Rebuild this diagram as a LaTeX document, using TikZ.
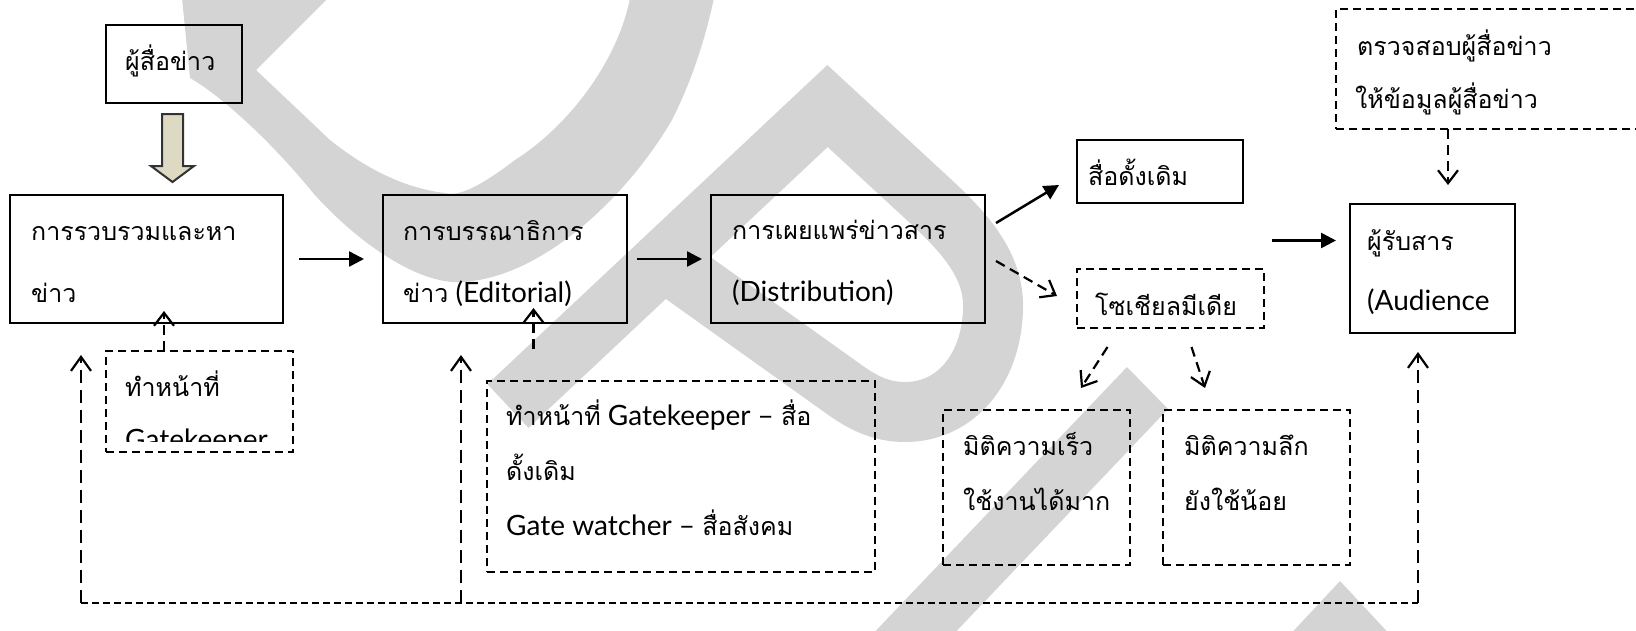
\documentclass[tikz,border=0pt]{standalone}
\usepackage{fontspec}
\setmainfont{Lato}
\newfontfamily\thaifont[Script=Thai]{Loma}
\usetikzlibrary{arrows.meta,calc}
\newcommand\thx[1]{{\thaifont\fontsize{25}{29}\selectfont #1}}
\definecolor{wmark}{gray}{0.83}
\definecolor{beige}{RGB}{221,217,195}
\begin{document}
\begin{tikzpicture}[x=1pt,y=-1pt,
  box/.style={draw=black, line width=2.4pt, rectangle, inner sep=0pt, outer sep=0pt, anchor=north west},
  dbox/.style={draw=black, line width=2.2pt, dash pattern=on 8pt off 5pt, rectangle, inner sep=0pt, outer sep=0pt, anchor=north west},
  txt/.style={anchor=base west, inner sep=0pt, font=\fontsize{28}{32}\selectfont},
  sarrow/.style={line width=2.5pt, -{Triangle[length=15pt,width=15pt]}},
  darrow/.style={line width=2.2pt, dash pattern=on 10pt off 6pt, -{Straight Barb[length=13pt,width=20pt]}},
  fbh/.style={line width=2.2pt, dash pattern=on 7pt off 4pt},
  fbv/.style={line width=2.2pt, dash pattern=on 13pt off 7pt, -{Straight Barb[length=14pt,width=20pt]}},
  wm/.style={fill=wmark, draw=none}
]
\useasboundingbox (0,0) rectangle (1636,630);

% watermark
\fill[wm] (182,-2) -- (190,78) .. controls (220,95) and (270,140) .. (314,194)
  .. controls (360,245) and (420,285) .. (462,282)
  .. controls (540,278) and (625,200) .. (672,120)
  .. controls (692,80) and (705,40) .. (714,-2) -- (630,-2)
  .. controls (618,60) and (570,125) .. (515,160)
  .. controls (482,185) and (460,197) .. (445,193)
  .. controls (420,190) and (380,180) .. (330,140) -- (256,70) -- (328,-2) -- cycle;
\draw[color=wmark, line width=60pt, line join=miter, line cap=butt]
  (508,406) -- (827.5,106) -- (919.5,191)
  .. controls (960,228) and (995,262) .. (993,310)
  .. controls (991,370) and (955,412) .. (905,412)
  .. controls (880,412) and (862,402) .. (845,390) -- (670,265);
\fill[wm] (1127,367) -- (1168,409) -- (948,640) -- (867,640) -- cycle;
\fill[wm] (1340,581) -- (1395,640) -- (1285,640) -- cycle;

% boxes
\node[box, minimum width=136pt, minimum height=78pt] (src) at (106,25) {};
\node[box, minimum width=273pt, minimum height=128pt] (b1) at (10,195) {};
\node[box, minimum width=244pt, minimum height=128pt] (b2) at (383,195) {};
\node[box, minimum width=274pt, minimum height=128pt] (b3) at (711,195) {};
\node[box, minimum width=166pt, minimum height=63pt] (trad) at (1077,140) {};
\node[dbox, minimum width=187pt, minimum height=59pt] (soc) at (1077,269) {};
\node[box, minimum width=165pt, minimum height=129pt] (aud) at (1350,204) {};
\node[dbox, minimum width=310pt, minimum height=120pt] (chk) at (1336,9) {};
\node[dbox, minimum width=187pt, minimum height=101pt] (gk1) at (106,351) {};
\node[dbox, minimum width=388pt, minimum height=191pt] (gk2) at (487,381) {};
\node[dbox, minimum width=187pt, minimum height=155pt] (spd) at (943,410) {};
\node[dbox, minimum width=187pt, minimum height=155pt] (dep) at (1163,410) {};

% texts
\node[txt] (t0) at (125,70) {\thx{ผู้สื่อข่าว}};
\node[txt] (t1a) at (31,240) {\thx{การรวบรวมและหา}};
\node[txt] (t1b) at (31,302) {\thx{ข่าว}};
\node[txt] (t2a) at (403,240) {\thx{การบรรณาธิการ}};
\node[txt] (t2b) at (403,302) {\thx{ข่าว} (Editorial)};
\node[txt] (t3a) at (732,239) {\thx{การเผยแพร่ข่าวสาร}};
\node[txt] (t3b) at (732,301) {(Distribution)};
\node[txt] (t4) at (1088,185) {\thx{สื่อดั้งเดิม}};
\node[txt] (t5) at (1095,315) {\thx{โซเชียลมีเดีย}};
\node[txt] (t6a) at (1367,250) {\thx{ผู้รับสาร}};
\node[txt] (t6b) at (1367,310) {(Audience};
\node[txt] (t7a) at (1357,55) {\thx{ตรวจสอบผู้สื่อข่าว}};
\node[txt] (t7b) at (1355,108) {\thx{ให้ข้อมูลผู้สื่อข่าว}};
\node[txt] (t8a) at (125,396) {\thx{ทำหน้าที่}};
\begin{scope}
\clip (100,340) rectangle (300,441);
\node[txt] (t8b) at (125,449) {Gatekeeper};
\end{scope}
\node[txt] (t9a) at (506,425) {\thx{ทำหน้าที่} Gatekeeper – \thx{สื่อ}};
\node[txt] (t9b) at (506,480) {\thx{ดั้งเดิม}};
\node[txt] (t9c) at (506,535) {Gate watcher – \thx{สื่อสังคม}};
\node[txt] (t10a) at (963,455) {\thx{มิติความเร็ว}};
\node[txt] (t10b) at (963,510) {\thx{ใช้งานได้มาก}};
\node[txt] (t11a) at (1184,455) {\thx{มิติความลึก}};
\node[txt] (t11b) at (1184,510) {\thx{ยังใช้น้อย}};

% block arrow from source to gathering
\draw[line width=2pt, draw=black!80, fill=beige, line join=miter]
  ($(src.south)+(-12,11)$) -- ($(src.south)+(9,11)$) -- ($(src.south)+(9,63)$)
  -- ($(src.south)+(20,63)$) -- ($(src.south)+(-1.5,79)$) -- ($(src.south)+(-23,63)$)
  -- ($(src.south)+(-12,63)$) -- cycle;

% solid arrows
\draw[sarrow] ($(b1.east)+(16,0)$) -- ($(b2.west)+(-19,0)$);
\draw[sarrow] ($(b2.east)+(10,0)$) -- ($(b3.west)+(-9,0)$);
\draw[sarrow] ($(b3.east)+(11,-36)$) -- ($(trad.south west)+(-18,-18)$);
\draw[sarrow] ($(aud.west)+(-78,-28)$) -- ($(aud.west)+(-14,-28)$);

% dashed arrows
\draw[darrow] ($(b3.east)+(11,2)$) -- ($(soc.north west)+(-20,27)$);
\draw[darrow] ($(soc.south)+(-63,19)$) -- ($(spd.north)+(44.5,-22)$);
\draw[darrow] ($(soc.south)+(21,19)$) -- ($(dep.north)+(-51.5,-22)$);
\draw[darrow] ($(chk.south west)+(112,0)$) -- ($(aud.north)+(15.5,-19)$);
\draw[darrow] ($(gk1.north west)+(58,0)$) -- ($(b1.south)+(17.5,-12)$);
\draw[darrow] ($(gk2.north west)+(46.5,-32)$) -- ($(b2.south)+(28.5,-15)$);

% feedback lines
\coordinate (fbL) at ($(b1.south)+(-65.5,280)$);
\coordinate (fbM) at ($(b2.south)+(-44,280)$);
\coordinate (fbR) at ($(aud.south)+(-14.5,270)$);
\draw[fbh] (fbL) -- (fbR);
\draw[fbv] (fbL) -- ($(b1.south)+(-65.5,32)$);
\draw[fbv] (fbM) -- ($(b2.south)+(-44,32)$);
\draw[fbv] (fbR) -- ($(aud.south)+(-14.5,19)$);
\end{tikzpicture}
\end{document}
